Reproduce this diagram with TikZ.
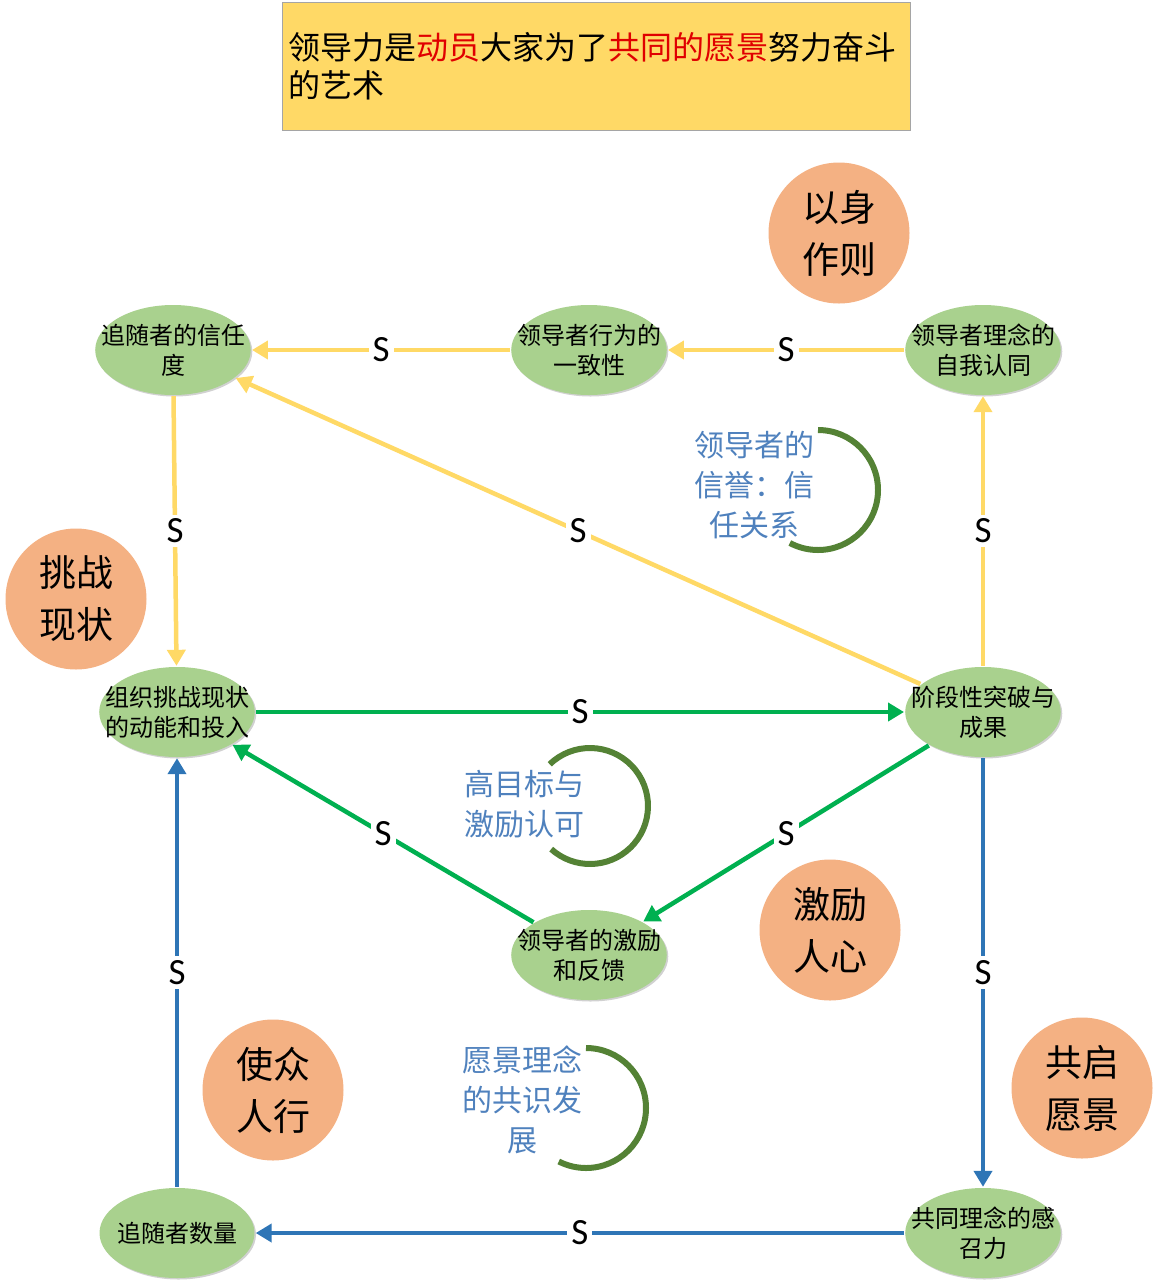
\documentclass[tikz,border=0pt]{standalone}
\usepackage{fontspec}
\setmainfont{Carlito}
\newfontfamily\cjk{Noto Sans CJK SC}
\usetikzlibrary{shapes.geometric,arrows.meta,shadows}

\definecolor{ylwline}{HTML}{FFD966}
\definecolor{grnline}{HTML}{00B050}
\definecolor{bluline}{HTML}{2E75B6}
\definecolor{leaf}{HTML}{A9D18E}
\definecolor{peach}{HTML}{F4B183}
\definecolor{ringgreen}{HTML}{548235}
\definecolor{notetext}{HTML}{4F81BD}
\definecolor{titlefill}{HTML}{FFD966}
\definecolor{titleline}{HTML}{A5A5A5}
\definecolor{hot}{HTML}{E00000}

\tikzset{
  stage/.style={ellipse,fill=leaf,minimum width=155pt,minimum height=90pt,inner ysep=0pt,
    inner xsep=-17pt,align=center,font=\cjk\fontsize{24}{30}\selectfont,
    drop shadow={shadow xshift=1.5pt,shadow yshift=-1.5pt,opacity=0.3,fill=black!60}},
  practice/.style={circle,fill=peach,minimum size=141pt,inner sep=0pt,
    align=center,font=\cjk\fontsize{37}{52}\selectfont},
  note/.style={align=center,text=notetext,font=\cjk\fontsize{30}{40}\selectfont},
  ring/.style={draw=ringgreen,line width=6pt},
  slabel/.style={fill=white,text=black,inner sep=4pt,font=\fontsize{37}{40}\selectfont},
  link/.style={->,line width=4.5pt,shorten <=1pt,shorten >=1pt},
  ylw/.style={link,draw=ylwline,color=ylwline},
  grn/.style={link,draw=grnline,color=grnline},
  blu/.style={link,draw=bluline,color=bluline}
}

\begin{document}
\begin{tikzpicture}[x=1pt,y=-1pt,>={Triangle[length=16pt,width=18pt]}]
\useasboundingbox (0,0) rectangle (1159,1286);

% title
\node[draw=titleline,fill=titlefill,line width=1pt,minimum width=628pt,minimum height=128pt,
  text width=616pt,align=left,inner xsep=6pt,font=\cjk\fontsize{32}{38}\selectfont]
  (title) at (596,66)
  {领导力是\textcolor{hot}{动员}大家为了\textcolor{hot}{共同的愿景}努力奋斗\\的艺术};

% stages
\node[stage] (T) at (173,350) {追随者的信任\\度};
\node[stage] (C) at (589,350) {领导者行为的\\一致性};
\node[stage] (I) at (983,350) {领导者理念的\\自我认同};
\node[stage] (O) at (177,712) {组织挑战现状\\的动能和投入};
\node[stage] (B) at (983,712) {阶段性突破与\\成果};
\node[stage] (M) at (589,955) {领导者的激励\\和反馈};
\node[stage] (N) at (177,1233) {追随者数量};
\node[stage] (V) at (983,1233) {共同理念的感\\召力};

% practices
\node[practice] (model) at (839,233) {以身\\作则};
\node[practice] (challenge) at (76,599) {挑战\\现状};
\node[practice] (heart) at (830,930) {激励\\人心};
\node[practice] (enable) at (273,1090) {使众\\人行};
\node[practice] (vision) at (1082,1088) {共启\\愿景};

% loops
\node[note] (credit) at (754,485) {领导者的\\信誉：信\\任关系};
\draw[ring] (818,490) ++(-90:60) arc[start angle=-90,end angle=118,radius=60];
\node[note] (reward) at (524,804) {高目标与\\激励认可};
\draw[ring] (590,806) ++(-134:58) arc[start angle=-134,end angle=132,radius=58];
\node[note] (share) at (522,1100) {愿景理念\\的共识发\\展};
\draw[ring] (586,1108) ++(-90:60) arc[start angle=-90,end angle=117,radius=60];

\path[ylw] (C) edge node[slabel] {S} (T)
           (I) edge node[slabel] {S} (C)
           (T) edge node[slabel] {S} (O)
           (B) edge node[slabel] {S} (T)
           (B) edge node[slabel] {S} (I);
\path[grn] (O) edge node[slabel] {S} (B)
           (B) edge node[slabel] {S} (M)
           (M) edge node[slabel] {S} (O);
\path[blu] (B) edge node[slabel] {S} (V)
           (V) edge node[slabel] {S} (N)
           (N) edge node[slabel] {S} (O);

\end{tikzpicture}
\end{document}
